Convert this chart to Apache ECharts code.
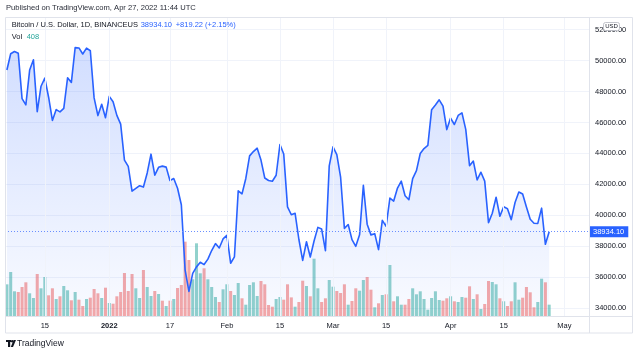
<!DOCTYPE html>
<html><head><meta charset="utf-8">
<script src="https://cdn.jsdelivr.net/npm/echarts@6/dist/echarts.min.js"></script>
<style>html,body{margin:0;padding:0;background:#fff}#c{width:640px;height:356px}</style>
</head><body><div id="c"></div>
<script>
// ---- data ----
const startDate = '2021-12-05';
const dayCount = 154; // visible daily slots (data + empty right margin)
const closes = [
 49396,50441,50589,50471,47545,47140,49389,50053,46702,48343,48864,47632,46131,46834,46681,46914,48889,48588,50838,50821,50429,50809,50640,47588,46444,47178,46306,
 47686,47345,46458,45897,43569,43160,41557,41733,41911,41821,42735,43949,42591,43099,43177,43113,42250,42375,41744,40680,36445,35071,36244,36660,36958,36809,37160,37716,38166,37881,38466,
 38694,36896,37311,41574,41382,42380,43840,44118,44338,43565,42407,42244,42197,42586,44575,43961,40538,40031,40122,38431,37075,38287,37296,38332,39214,39105,37710,43194,
 44421,43925,42458,39148,39398,38420,37989,38731,41942,39422,38730,38807,37778,39671,39281,41114,40917,41757,42201,41262,41002,42364,42882,43991,44313,44511,46827,47128,47465,47062,45538,
 46281,45868,46453,46622,45555,43206,43503,42287,42782,42207,39521,40127,41166,39935,40553,40424,39716,40826,41502,41374,40527,39740,39486,39470,40458,38120,38934.10
];
const volumes = [
 1140,1584,889,864,1044,1213,817,648,1512,997,1404,745,997,612,709,1080,925,565,864,587,360,612,659,972,817,648,1019,
 468,443,709,864,1548,900,1512,997,648,1656,1044,720,900,792,551,360,551,612,1008,1116,2675,2016,1321,2617,1537,1717,1321,1044,684,504,961,
 1141,900,756,1188,637,407,1116,1213,720,1260,1141,396,335,612,684,587,1141,670,335,504,1271,1080,709,2063,997,504,637,1296,
 1055,900,828,1141,407,540,997,911,1296,1404,947,313,457,756,781,1836,529,709,407,407,612,997,781,889,612,227,648,889,576,551,637,
 709,529,504,684,659,1069,612,781,252,432,1260,1224,1141,637,529,360,529,1213,587,659,1044,853,313,504,1343,1213,408
];
const directions = ('uuuddduudu' + 'udduduudud' + 'dudddududd' + 'dddduuduud' + 'udududdddu' +
  'uuduuuduud' + 'uuduuuuddd' + 'duuddduddu' + 'duudduuddd' + 'udduuddudu' +
  'duduudduuu' + 'uuuuuddudu' + 'uddududduu' + 'dudduudddd' + 'uudu').split('');
const tickDates = ['2021-12-15','2022-01-01','2022-01-17','2022-02-01','2022-02-15','2022-03-01','2022-03-15','2022-04-01','2022-04-15','2022-05-01'];
const tickLabels = ['15','2022','17','Feb','15','Mar','15','Apr','15','May'];
const priceTicks = [34000,36000,38000,40000,42000,44000,46000,48000,50000,52000];
const priceMin = 33483, priceMax = 52821, volMax = 10764;
const lastPrice = 38934.10;
const headerText = 'Published on TradingView.com, Apr 27, 2022 11:44 UTC';
const legendTitle = 'Bitcoin / U.S. Dollar, 1D, BINANCEUS';
const legendPrice = '38934.10';
const legendChange = '+819.22 (+2.15%)';
const legendVol = '408';

// ---- chart ----
const FONT = '"Liberation Sans", Arial, sans-serif';
const TXT = '#131722';
const categories = [];
(function(){ const d0 = new Date(startDate + 'T00:00:00Z');
  for (let i = 0; i < dayCount; i++) categories.push(new Date(d0.getTime() + i*86400000).toISOString().slice(0,10)); })();
const tickMap = new Map(tickDates.map((d,i)=>[d, tickLabels[i]]));
const volData = volumes.map((v,i)=>({value:v, itemStyle:{color: directions[i]==='u' ? 'rgba(38,166,154,0.5)' : 'rgba(239,83,80,0.5)'}}));

const chart = echarts.init(document.getElementById('c'));
chart.setOption({
  animation:false,
  backgroundColor:'#fff',
  grid:{left:5, right:51, top:17, bottom:40, containLabel:false},
  xAxis:{type:'category', data:categories, boundaryGap:true,
    axisLine:{show:false}, axisTick:{show:false}, splitLine:{show:false},
    axisLabel:{interval:(i,v)=>tickMap.has(v),
      formatter:(v)=>{const l = tickMap.get(v)||''; return /^\d{4}$/.test(l) ? '{b|'+l+'}' : l;},
      rich:{b:{fontWeight:'bold', fontSize:7.5, color:TXT, fontFamily:FONT}},
      fontSize:7.5, color:TXT, fontFamily:FONT, margin:6}},
  yAxis:[
    {type:'value', position:'right', min:priceMin, max:priceMax,
     axisLine:{show:false}, axisTick:{show:false, customValues:priceTicks},
     axisLabel:{customValues:priceTicks, formatter:v=>v.toFixed(2), fontSize:7.5, color:TXT, fontFamily:FONT, margin:6},
     splitLine:{show:true, lineStyle:{color:'#f0f3fa', width:1}}},
    {type:'value', min:0, max:volMax, show:false, splitLine:{show:false}}
  ],
  series:[
    {type:'line', data:[], z:0, silent:true,
     markLine:{silent:true, symbol:['none','none'], animation:false, label:{show:false},
       lineStyle:{color:'#f0f3fa', type:'solid', width:1},
       data: tickDates.map(d=>({xAxis:d}))}},
    {type:'bar', yAxisIndex:1, data:volData, barCategoryGap:'20%', z:1, silent:true},
    {type:'line', yAxisIndex:0, data:closes, z:3, symbol:'none', silent:true,
     lineStyle:{color:'#2962ff', width:1.6, join:'round'},
     areaStyle:{origin:'start', color:new echarts.graphic.LinearGradient(0,0,0,1,[
       {offset:0, color:'rgba(41,98,255,0.3)'},{offset:1, color:'rgba(41,98,255,0.04)'}])},
     markLine:{silent:true, symbol:['none','none'], animation:false,
       data:[{yAxis:lastPrice}],
       lineStyle:{color:'#6a8fff', type:[1,2], width:1},
       label:{show:true, position:'end', distance:0, formatter:()=>lastPrice.toFixed(2),
         backgroundColor:'#2962ff', color:'#fff', fontSize:7.5, fontFamily:FONT, padding:[2,4,1,4]}}}
  ],
  graphic:[
    {type:'text', x:6, y:8, style:{text:headerText, fill:'#2a2e39', font:'7.6px '+FONT, verticalAlign:'middle'}},
    {type:'rect', shape:{x:5.5, y:17.5, width:627, height:315.5}, style:{fill:'none', stroke:'#e0e3eb', lineWidth:1}, z:10},
    {type:'line', shape:{x1:589.5, y1:17, x2:589.5, y2:333}, style:{stroke:'#e0e3eb', lineWidth:1}, z:10},
    {type:'line', shape:{x1:5, y1:316.5, x2:633, y2:316.5}, style:{stroke:'#e0e3eb', lineWidth:1}, z:10},
    {type:'text', x:11.7, y:25, style:{text:legendTitle, fill:TXT, font:'7.5px '+FONT, verticalAlign:'middle'}, z:10},
    {type:'text', x:140.7, y:25, style:{text:legendPrice, fill:'#2962ff', font:'7.5px '+FONT, verticalAlign:'middle'}, z:10},
    {type:'text', x:175.7, y:25, style:{text:legendChange, fill:'#2962ff', font:'7.5px '+FONT, verticalAlign:'middle'}, z:10},
    {type:'text', x:11.7, y:36.7, style:{text:'Vol', fill:TXT, font:'7.5px '+FONT, verticalAlign:'middle'}, z:10},
    {type:'text', x:26.7, y:36.7, style:{text:legendVol, fill:'#26a69a', font:'7.5px '+FONT, verticalAlign:'middle'}, z:10},
    {type:'rect', shape:{x:603.5, y:22.5, width:16, height:8, r:2}, style:{fill:'#fff', stroke:'#b2b5be', lineWidth:0.8}, z:20},
    {type:'text', x:611.5, y:26.6, style:{text:'USD', fill:TXT, font:'6px '+FONT, align:'center', verticalAlign:'middle'}, z:21},
    {type:'rect', shape:{x:6, y:340, width:5, height:2}, style:{fill:'#131722'}, z:10},
    {type:'rect', shape:{x:8, y:340, width:2.2, height:7}, style:{fill:'#131722'}, z:10},
    {type:'circle', shape:{cx:12.2, cy:341.2, r:1.2}, style:{fill:'#131722'}, z:10},
    {type:'polygon', shape:{points:[[13.6,340],[16,340],[13,347],[10.8,347]]}, style:{fill:'#131722'}, z:10},
    {type:'text', x:17, y:344, style:{text:'TradingView', fill:'#131722', font:'8.5px '+FONT, verticalAlign:'middle'}, z:10}
  ]
});
</script></body></html>
